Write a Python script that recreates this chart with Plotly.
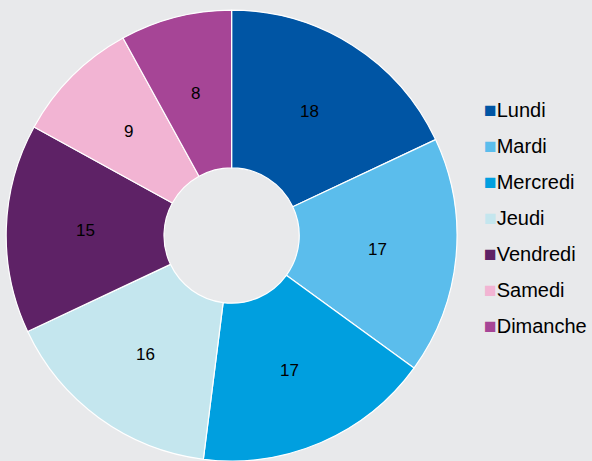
import math
import plotly.graph_objects as go

labels = ["Lundi", "Mardi", "Mercredi", "Jeudi", "Vendredi", "Samedi", "Dimanche"]
values = [18, 17, 17, 16, 15, 9, 8]
colors = ["#0055a4", "#5bbdec", "#009fdf", "#c4e6ee", "#5e2266", "#f2b4d3", "#a64596"]

FONT = "Liberation Sans, Arial, sans-serif"
W, H = 592, 461
HOLE = 0.30
DOM_X = [6 / W, 458 / W]
DOM_Y = [0.0, 0.978]

fig = go.Figure()
fig.add_trace(go.Pie(
    labels=labels, values=values, sort=False, direction="clockwise", rotation=0,
    hole=HOLE, marker=dict(colors=colors, line=dict(color="white", width=1.2)),
    textinfo="none", domain=dict(x=DOM_X, y=DOM_Y),
    showlegend=False, hoverinfo="label+value",
))

# value labels placed mid-ring, derived from the data (cumulative angles)
dw = (DOM_X[1] - DOM_X[0]) * W
dh = (DOM_Y[1] - DOM_Y[0]) * H
R = min(dw, dh) / 2
cx = (DOM_X[0] + DOM_X[1]) / 2 * W
cy = (DOM_Y[0] + DOM_Y[1]) / 2 * H
r_lab = R * (1 + HOLE) / 2
total = sum(values)
cum = 0
for v in values:
    frac = (cum + v / 2) / total
    cum += v
    th = math.radians(90 - 360 * frac)
    fig.add_annotation(
        x=(cx + r_lab * math.cos(th)) / W, y=(cy + r_lab * math.sin(th)) / H,
        xref="paper", yref="paper", text=str(v), showarrow=False,
        xanchor="center", yanchor="middle",
        font=dict(family=FONT, size=17, color="black"),
    )

for lab, col in zip(labels, colors):
    fig.add_trace(go.Scatter(
        x=[None], y=[None], mode="markers", legendgroup=lab,
        name=f"<span style='color:{col};font-size:21px'>■</span>{lab}",
        marker=dict(symbol="square", size=0.1, color="rgba(0,0,0,0)",
                    line=dict(width=0)),
    ))

fig.update_layout(
    width=W, height=H, margin=dict(l=0, r=0, t=0, b=0),
    paper_bgcolor="#e8e9eb", plot_bgcolor="#e8e9eb",
    xaxis=dict(visible=False), yaxis=dict(visible=False),
    legend=dict(x=445 / W, y=1 - 89.5 / H, xanchor="left", yanchor="top",
                traceorder="grouped", tracegroupgap=7.0, itemwidth=30,
                font=dict(family=FONT, size=20, color="black"),
                bgcolor="rgba(0,0,0,0)"),
)
fig.write_html("out.html", config={"displayModeBar": False},
               post_script="document.body.style.margin='0';")
